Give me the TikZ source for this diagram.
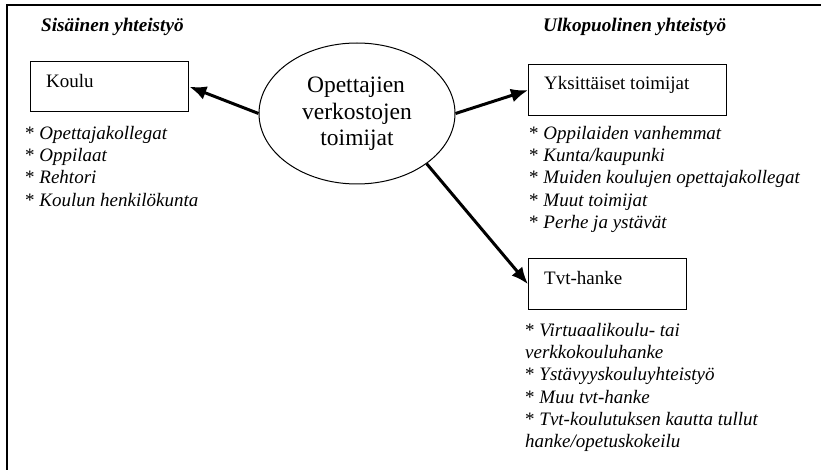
\documentclass[tikz,border=0pt]{standalone}
\usepackage{fontspec}
\setmainfont{Liberation Serif}
\usetikzlibrary{arrows.meta,shapes.geometric}
\begin{document}
\begin{tikzpicture}[x=1pt,y=-1pt,
  boxnode/.style={draw, line width=1.4pt, inner sep=0pt, anchor=north west},
  txt/.style={inner sep=0pt, font=\fontsize{19}{22.3}\selectfont},
  listtxt/.style={inner sep=0pt, align=left, anchor=north west, font=\fontsize{19}{22.3}\selectfont\itshape},
  head/.style={inner sep=0pt, anchor=base west, font=\fontsize{19.2}{22.3}\selectfont\bfseries\itshape},
  conn/.style={line width=3pt, -{Latex[length=17pt,width=14pt]}}]
\useasboundingbox (0,0) rectangle (821,470);
\fill[white] (0,0) rectangle (821,470);
% frame
\draw[line width=2pt] (7,470) -- (7,5) -- (821,5);
% headers
\node[head] (h1) at (41,32) {Sisäinen yhteistyö};
\node[head] (h2) at (543,32) {Ulkopuolinen yhteistyö};
% ellipse
\node[draw, ellipse, line width=1pt, minimum width=196pt, minimum height=141pt, inner sep=0pt] (ell) at (357,113.5) {};
\node[inner sep=0pt, anchor=base, font=\fontsize{23.5}{26.5}\selectfont] (e1) at (356,93) {Opettajien};
\node[inner sep=0pt, anchor=base, font=\fontsize{23.5}{26.5}\selectfont] (e2) at (357,119.5) {verkostojen};
\node[inner sep=0pt, anchor=base, font=\fontsize{23.5}{26.5}\selectfont] (e3) at (357,146) {toimijat};
% boxes
\node[boxnode, minimum width=158pt, minimum height=50pt] (koulu) at (30,61) {};
\node[txt, anchor=base west] (kt) at (46,87.5) {Koulu};
\node[boxnode, minimum width=198pt, minimum height=51pt] (yks) at (528,64) {};
\node[txt, anchor=base west] (yt) at (544,90) {Yksittäiset toimijat};
\node[boxnode, minimum width=158pt, minimum height=51pt] (tvt) at (528,258) {};
\node[txt, anchor=base west] (tt) at (544,284) {Tvt-hanke};
% lists
\node[listtxt] (kl) at (25,126) {{\upshape*} Opettajakollegat\\{\upshape*} Oppilaat\\{\upshape*} Rehtori\\{\upshape*} Koulun henkilökunta};
\node[listtxt] (yl) at (529,126) {{\upshape*} Oppilaiden vanhemmat\\{\upshape*} Kunta/kaupunki\\{\upshape*} Muiden koulujen opettajakollegat\\{\upshape*} Muut toimijat\\{\upshape*} Perhe ja ystävät};
\node[listtxt] (tl) at (525,323) {{\upshape*} Virtuaalikoulu- tai\\verkkokouluhanke\\{\upshape*} Ystävyyskouluyhteistyö\\{\upshape*} Muu tvt-hanke\\{\upshape*} Tvt-koulutuksen kautta tullut\\hanke/opetuskokeilu};
% connectors
\draw[conn] (ell.west) -- (koulu.east);
\draw[conn] (ell.east) -- (yks.west);
\draw[conn] (ell.south east) -- (tvt.west);
\end{tikzpicture}
\end{document}
